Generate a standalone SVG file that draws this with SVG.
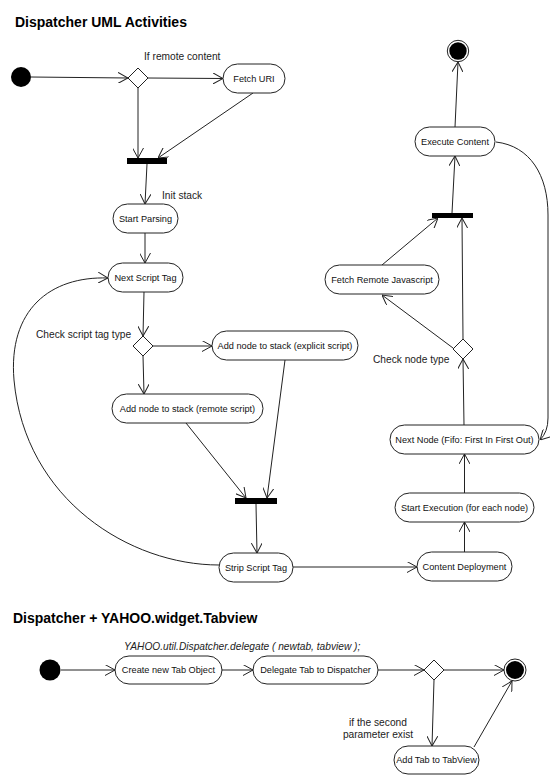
<svg xmlns="http://www.w3.org/2000/svg" width="550" height="783" viewBox="0 0 550 783">
<defs>
<style>
.bg{fill:#ffffff}
.node rect{fill:#ffffff;stroke:#222;stroke-width:1}
.node text{font-family:"Liberation Sans",Arial,sans-serif;font-size:9.2px;fill:#111;text-anchor:middle}
.title{font-family:"Liberation Sans",Arial,sans-serif;font-size:14px;font-weight:bold;fill:#000}
.lbl{font-family:"Liberation Sans",Arial,sans-serif;font-size:10.2px;fill:#222}
.it{font-style:italic}
.edge{fill:none;stroke:#222;stroke-width:1;marker-end:url(#arr)}
.bar{fill:#000}
.dia{fill:#fff;stroke:#222;stroke-width:1}
.start{fill:#000}
.endo{fill:#fff;stroke:#222;stroke-width:1}
</style>
<marker id="arr" viewBox="0 0 10 11" refX="10" refY="5.5" markerWidth="10" markerHeight="11" markerUnits="userSpaceOnUse" orient="auto">
<path d="M0,0 L10,5.5 L0,11" fill="none" stroke="#222" stroke-width="1"/>
</marker>
</defs>
<rect class="bg" x="0" y="0" width="550" height="783"/>

<text class="title" x="15" y="27">Dispatcher UML Activities</text>
<text class="title" x="13" y="623">Dispatcher + YAHOO.widget.Tabview</text>

<g id="connectors">
<path class="edge" d="M31,77 L128,78"/>
<path class="edge" d="M148,78 L223,78.5"/>
<path class="edge" d="M138,88 L138,158"/>
<path class="edge" d="M253,93 L158,158"/>
<path class="edge" d="M147,164 L145,204"/>
<path class="edge" d="M145,233 L145,263"/>
<path class="edge" d="M144,292 L143,336"/>
<path class="edge" d="M153,346 L212,346"/>
<path class="edge" d="M143,356 L144,394"/>
<path class="edge" d="M186,423 L246,498"/>
<path class="edge" d="M285,360 L267,498"/>
<path class="edge" d="M256,504 L257,553"/>
<path class="edge" d="M219,565 C130,565 25,500 14,380 C8,310 50,276 108,278"/>
<path class="edge" d="M293,567 L417,567"/>
<path class="edge" d="M464.5,552 L464.5,522"/>
<path class="edge" d="M464.5,493 L464.5,454"/>
<path class="edge" d="M464,425 L463,359"/>
<path class="edge" d="M453,348 L382,295"/>
<path class="edge" d="M463,339 L462,218"/>
<path class="edge" d="M382,265 L438,218"/>
<path class="edge" d="M452,213 L455,156"/>
<path class="edge" d="M455,127 L458,62"/>
<path class="edge" d="M496,142 C530,146 548,175 548,215 L548,418 Q548,432 540,440"/>
<path class="edge" d="M61,670 L115,670"/>
<path class="edge" d="M222,670 L253,670"/>
<path class="edge" d="M378,670 L424,670"/>
<path class="edge" d="M444,670 L504,670"/>
<path class="edge" d="M434,680 L432,746"/>
<path class="edge" d="M474,747 L512,681"/>
</g>

<g id="start1"><circle class="start" cx="21" cy="77" r="10"/></g>
<g id="decision-remote"><polygon class="dia" points="138,68 148,78 138,88 128,78"/></g>
<text class="lbl" x="144" y="60">If remote content</text>
<g id="fetch-uri" class="node"><rect x="223" y="64" width="62" height="29" rx="14.5"/><text x="254" y="81.8">Fetch URI</text></g>
<g id="fork1"><rect class="bar" x="127" y="158" width="40" height="6"/></g>
<text class="lbl" x="162" y="199">Init stack</text>
<g id="start-parsing" class="node"><rect x="113" y="204" width="65" height="29" rx="14.5"/><text x="145.5" y="221.8">Start Parsing</text></g>
<g id="next-script-tag" class="node"><rect x="108" y="263" width="75" height="29" rx="14.5"/><text x="145.5" y="280.8">Next Script Tag</text></g>
<g id="decision-script"><polygon class="dia" points="143,336 153,346 143,356 133,346"/></g>
<text class="lbl" x="36" y="338">Check script tag type</text>
<g id="add-explicit" class="node"><rect x="212" y="331" width="146" height="29" rx="14.5"/><text x="285" y="348.8">Add node to stack (explicit script)</text></g>
<g id="add-remote" class="node"><rect x="112" y="394" width="151" height="29" rx="14.5"/><text x="187.5" y="411.8">Add node to stack (remote script)</text></g>
<g id="fork2"><rect class="bar" x="235" y="498" width="42" height="6"/></g>
<g id="strip-script-tag" class="node"><rect x="219" y="553" width="74" height="29" rx="14.5"/><text x="256" y="570.8">Strip Script Tag</text></g>
<g id="content-deployment" class="node"><rect x="417" y="552" width="95" height="29" rx="14.5"/><text x="464.5" y="569.8">Content Deployment</text></g>
<g id="start-execution" class="node"><rect x="395" y="493" width="139" height="29" rx="14.5"/><text x="464.5" y="510.8">Start Execution (for each node)</text></g>
<g id="next-node" class="node"><rect x="390" y="425" width="149" height="29" rx="14.5"/><text x="464.5" y="442.8">Next Node (Fifo: First In First Out)</text></g>
<g id="decision-node"><polygon class="dia" points="463,339 473,349 463,359 453,349"/></g>
<text class="lbl" x="373" y="362.5">Check node type</text>
<g id="fetch-remote-js" class="node"><rect x="325" y="265" width="114" height="29" rx="14.5"/><text x="382" y="282.8">Fetch Remote Javascript</text></g>
<g id="fork3"><rect class="bar" x="432" y="213" width="41" height="5"/></g>
<g id="execute-content" class="node"><rect x="415" y="127" width="80" height="29" rx="14.5"/><text x="455" y="144.8">Execute Content</text></g>
<g id="end1"><circle class="endo" cx="458" cy="51" r="10.7"/><circle class="start" cx="458" cy="51" r="8.7"/></g>

<g id="start2"><circle class="start" cx="50" cy="670" r="10.5"/></g>
<text class="lbl it" x="124" y="650">YAHOO.util.Dispatcher.delegate ( newtab, tabview );</text>
<g id="create-tab" class="node"><rect x="115" y="656" width="107" height="28" rx="14"/><text x="168.5" y="673.3">Create new Tab Object</text></g>
<g id="delegate-tab" class="node"><rect x="253" y="656" width="125" height="28" rx="14"/><text x="315.5" y="673.3">Delegate Tab to Dispatcher</text></g>
<g id="decision-param"><polygon class="dia" points="434,660 444,670 434,680 424,670"/></g>
<g id="end2"><circle class="endo" cx="515" cy="670" r="11"/><circle class="start" cx="515" cy="670" r="9"/></g>
<text class="lbl" x="378" y="726" text-anchor="middle">if the second</text>
<text class="lbl" x="378" y="737.5" text-anchor="middle">parameter exist</text>
<g id="add-tab" class="node"><rect x="394" y="746" width="85" height="28" rx="14"/><text x="436.5" y="763.3">Add Tab to TabView</text></g>
</svg>
